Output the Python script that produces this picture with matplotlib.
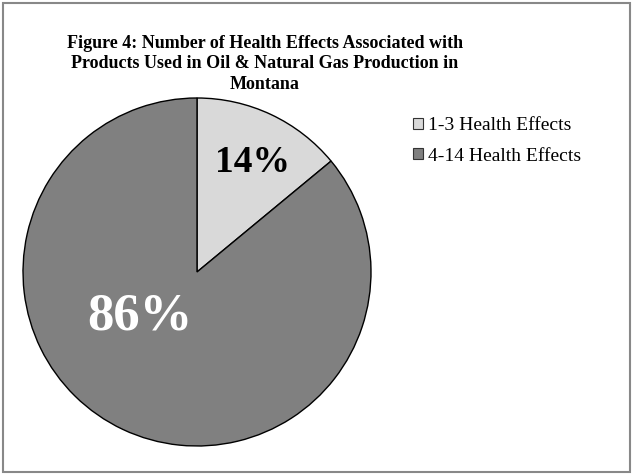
import matplotlib
matplotlib.use("Agg")
import matplotlib.pyplot as plt
from matplotlib.patches import Rectangle, Patch

categories = ["1-3 Health Effects", "4-14 Health Effects"]
values = [14, 86]
labels = ["14%", "86%"]
colors = ["#D9D9D9", "#808080"]
title = "Figure 4: Number of Health Effects Associated with\nProducts Used in Oil & Natural Gas Production in\nMontana"

plt.rcParams['font.family'] = ['Liberation Serif', 'DejaVu Serif']

W, H = 632, 474
fig = plt.figure(figsize=(W / 100, H / 100), dpi=100)
fig.patch.set_facecolor("white")

# outer border
fig.add_artist(Rectangle((2.5 / W, 2.5 / H), (W - 5) / W, (H - 5) / H,
                         transform=fig.transFigure, fill=False,
                         edgecolor="#888888", linewidth=1.5))

cx, cy, r = 197, 272, 174
ax = fig.add_axes([(cx - r) / W, (H - cy - r) / H, 2 * r / W, 2 * r / H])
wedges, _ = ax.pie(values, colors=colors, startangle=90, counterclock=False,
                   wedgeprops=dict(edgecolor="black", linewidth=1.0))
ax.set_xlim(-1, 1)
ax.set_ylim(-1, 1)
ax.set_aspect("equal")
ax.axis("off")

# data labels
ax.text((253 - cx) / r, (cy - 163) / r, labels[0], ha="center", va="center",
        fontsize=27, fontweight="bold", color="black")
ax.text((140 - cx) / r, (cy - 317) / r, labels[1], ha="center", va="center",
        fontsize=38, fontweight="bold", color="white")

fig.text(265 / W, 1 - 64 / H, title, ha="center", va="center",
         fontsize=13, fontweight="bold", linespacing=1.3)

handles = [Patch(facecolor=c, edgecolor="#333333", linewidth=0.8) for c in colors]
fig.legend(handles, categories, loc="upper left",
           bbox_to_anchor=(413 / W, 1 - 117 / H), frameon=False,
           fontsize=14, handlelength=0.5, handleheight=0.5,
           handletextpad=0.25, labelspacing=0.7, borderaxespad=0,
           borderpad=0)

fig.savefig("out.png", dpi=100, facecolor="white")
